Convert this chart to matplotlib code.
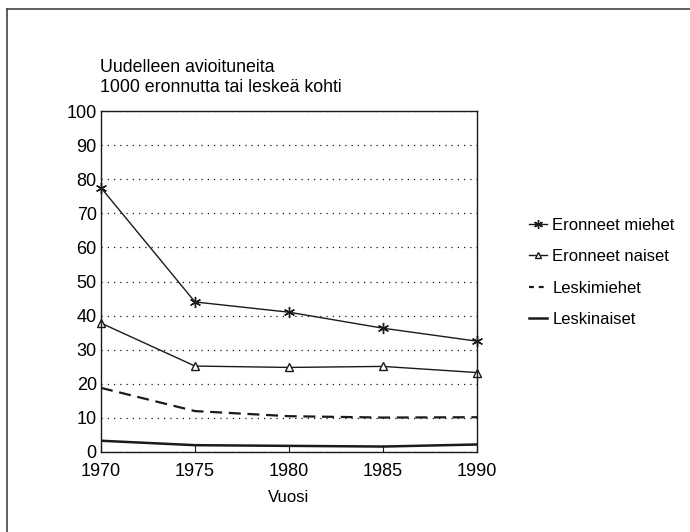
import numpy as np
import matplotlib
matplotlib.use("Agg")
import matplotlib.pyplot as plt
from matplotlib.lines import Line2D

# ── Data ────────────────────────────────────────────
years = [1970, 1975, 1980, 1985, 1990]
eronneet_miehet = [77.5, 44.0, 41.0, 36.3, 32.5]
eronneet_naiset = [37.8, 25.2, 24.8, 25.1, 23.3]
leskimiehet = [18.8, 12.0, 10.5, 10.1, 10.2]
leskinaiset = [3.3, 2.0, 1.8, 1.6, 2.2]

labels = ["Eronneet miehet", "Eronneet naiset", "Leskimiehet", "Leskinaiset"]
yticks = list(range(0, 101, 10))

plt.rcParams["font.family"] = ["Liberation Sans", "DejaVu Sans"]

fig = plt.figure(figsize=(6.9, 5.32), dpi=100)
W, H = 690, 532
ax = fig.add_axes([101 / W, 1 - 452 / H, (477 - 101) / W, (452 - 111) / H])

col = "#1a1a1a"
ax.plot(years, eronneet_miehet, color=col, lw=1.0, marker=(6, 2, 0), ms=8, mew=1.0,
        label=labels[0], clip_on=False)
ax.plot(years, eronneet_naiset, color=col, lw=1.0, marker="^", ms=6, mfc="white", mew=1.0,
        label=labels[1], clip_on=False)
ax.plot(years, leskimiehet, color=col, lw=1.6, ls=(0, (5.4, 3)), label=labels[2])
ax.plot(years, leskinaiset, color=col, lw=1.8, label=labels[3])

ax.set_xlim(1970, 1990)
ax.set_ylim(0, 100)
ax.set_xticks(years)
ax.set_yticks(yticks)
ax.tick_params(axis="x", direction="in", length=5, labelsize=13, pad=8, color=col)
ax.tick_params(axis="y", length=0, labelsize=13, pad=3)
ax.yaxis.grid(True, ls=(0, (1, 4)), color=col, lw=0.9)
for s in ax.spines.values():
    s.set_color(col)
    s.set_linewidth(1.0)

ax.set_xlabel("Vuosi", fontsize=12, labelpad=7)

fig.text(100 / W, 1 - 67 / H, "Uudelleen avioituneita", fontsize=12.8, va="center", ha="left")
fig.text(100 / W, 1 - 87 / H, "1000 eronnutta tai leskeä kohti", fontsize=12.8, va="center", ha="left")

leg = ax.legend(loc="upper left", bbox_to_anchor=(514 / W, 1 - 203 / H), bbox_transform=fig.transFigure,
                frameon=False, fontsize=12, handlelength=1.1, handletextpad=0.3, labelspacing=0.98,
                markerscale=0.8)
# short double dash in the legend key, as in the original
leg.get_lines()[2].set_linestyle((0, (2.2, 2.2)))

# outer frame (top and left edges of the scanned box)
fig.add_artist(Line2D([7 / W, 7 / W], [0, 1 - 9 / H], color="#444444", lw=1.2, transform=fig.transFigure))
fig.add_artist(Line2D([7 / W, 1], [1 - 9 / H, 1 - 9 / H], color="#444444", lw=1.2, transform=fig.transFigure))

fig.savefig("out.png", dpi=100)
